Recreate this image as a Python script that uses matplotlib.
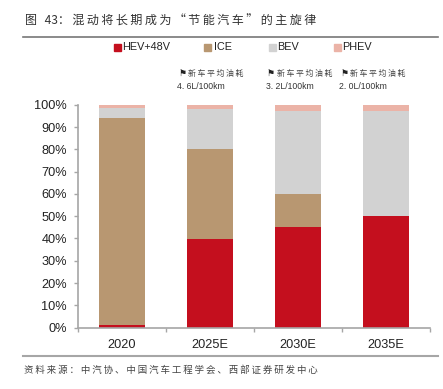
import matplotlib
matplotlib.use("Agg")
import matplotlib.pyplot as plt
import numpy as np

plt.rcParams['font.family'] = ['Liberation Sans', 'Noto Sans CJK SC', 'DejaVu Sans']

# 数据
categories = ['2020', '2025E', '2030E', '2035E']
hev = [1, 40, 45, 50]
ice = [93, 40, 15, 0]
bev = [4.5, 18, 37.5, 47.5]
phev = [1.5, 2, 2.5, 2.5]
series_names = ['HEV+48V', 'ICE', 'BEV', 'PHEV']
colors = ['#C40F1E', '#B89771', '#D2D2D2', '#EBB3A7']
fuel_notes = ['4. 6L/100km', '3. 2L/100km', '2. 0L/100km']
yticks = [0, 10, 20, 30, 40, 50, 60, 70, 80, 90, 100]
THIN = '\u2009'
COLON = '\uff1a'
CJK = ['Noto Sans CJK SC', 'DejaVu Sans']


def spaced(s):
    # 参考图里的中文字距比较宽
    return THIN.join(s)


W, H = 443, 389
fig = plt.figure(figsize=(W / 100, H / 100), dpi=100)
ax = fig.add_axes([78 / W, 1 - 327.5 / H, 352 / W, 222.5 / H])

x = np.arange(len(categories))
bottom = np.zeros(len(categories))
for vals, c in zip([hev, ice, bev, phev], colors):
    ax.bar(x, vals, width=0.515, bottom=bottom, color=c, linewidth=0)
    bottom += np.array(vals)

ax.set_xlim(-0.5, 3.5)
ax.set_ylim(0, 100)
ax.set_yticks(yticks)
ax.set_yticklabels([f'{v}%' for v in yticks], fontsize=9.2, color='#222222')
ax.set_xticks(x)
ax.set_xticklabels(categories, fontsize=9.2, color='#222222')
ax.set_xticks([-0.5, 0.5, 1.5, 2.5, 3.5], minor=True)
ax.tick_params(axis='x', which='major', length=0, pad=8)
ax.tick_params(axis='x', which='minor', length=3, color='#A6A6A6', width=1, direction='out')
ax.tick_params(axis='y', length=3, color='#A6A6A6', width=1, pad=5)
for s in ['top', 'right']:
    ax.spines[s].set_visible(False)
for s in ['left', 'bottom']:
    ax.spines[s].set_color('#A6A6A6')
    ax.spines[s].set_linewidth(1.2)

# 标题和分隔线
fig.text(25 / W, 1 - 21 / H, '图' + THIN * 2 + ' 43' + COLON + THIN + spaced('混动将长期成为“节能汽车”的主旋律'),
         fontsize=8.7, color='#333333', va='center', ha='left', family=CJK, fontweight='light')
fig.add_artist(plt.Line2D([23 / W, 438 / W], [1 - 36.5 / H] * 2, color='#777777', lw=1.2))
fig.add_artist(plt.Line2D([23 / W, 438 / W], [1 - 356 / H] * 2, color='#A6A6A6', lw=1.5))
fig.text(24 / W, 1 - 370 / H, spaced('资料来源' + COLON + '中汽协、中国汽车工程学会、西部证券研发中心'),
         fontsize=6.8, color='#444444', va='center', ha='left', family=CJK, fontweight='light')

# 图例
legend_x = [114, 204, 269, 334]
legend_pad = [8.5, 10, 8.5, 8.5]
for name, c, lx, pad in zip(series_names, colors, legend_x, legend_pad):
    fig.patches.append(plt.Rectangle((lx / W, 1 - 51 / H), 7 / W, 7 / H, color=c,
                                     transform=fig.transFigure, figure=fig))
    fig.text((lx + pad) / W, 1 - 47.5 / H, name, fontsize=7.8, color='#222222',
             va='center', ha='left')

# 油耗标注
note_x = [177, 266, 339]
for nx, note in zip(note_x, fuel_notes):
    fig.text((nx + 1) / W, 1 - 73.5 / H, '⚑', fontsize=6.5, color='#222222', va='center', ha='left',
             family=['DejaVu Sans'])
    fig.text((nx + 11) / W, 1 - 73.5 / H, spaced('新车平均油耗'), fontsize=5.7, color='#444444',
             va='center', ha='left', family=CJK, fontweight='light')
    fig.text(nx / W, 1 - 86.5 / H, note, fontsize=6.2, color='#333333',
             va='center', ha='left')

fig.savefig('out.png', dpi=100)
